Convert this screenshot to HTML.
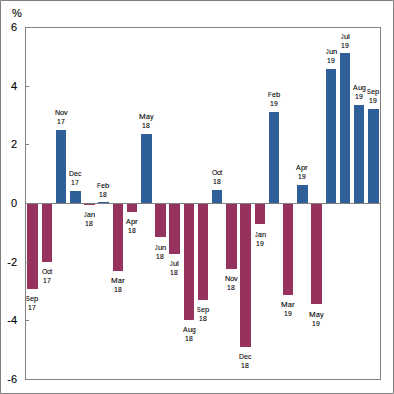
<!DOCTYPE html>
<html><head><meta charset="utf-8"><style>
html,body{margin:0;padding:0;background:#fff;}
#c{position:relative;width:394px;height:394px;overflow:hidden;background:#fff;font-family:"Liberation Sans",sans-serif;color:#000;}
#c svg{position:absolute;left:0;top:0;}
.dl{position:absolute;-webkit-text-stroke:0.1px #000;width:40px;text-align:center;font-size:7.5px;line-height:9px;white-space:nowrap;}
.yl{position:absolute;-webkit-text-stroke:0.1px #000;left:0;width:17px;text-align:right;font-size:11px;line-height:12px;white-space:nowrap;}
.gm{font-size:8px !important;}
.g{position:absolute;transform-origin:0 0;font-style:normal;-webkit-text-stroke:0.1px #000;font-size:7.5px;line-height:9px;white-space:nowrap;}
.pct{position:absolute;-webkit-text-stroke:0.1px #000;left:12px;top:7px;font-size:11px;line-height:12px;}
</style></head><body><div id="c">
<svg width="394" height="394" viewBox="0 0 394 394" shape-rendering="crispEdges">
<rect x="0.5" y="0.5" width="393" height="393" fill="none" stroke="#7e7e7e" stroke-width="1"/>
<rect x="0" y="0" width="1" height="1" fill="#a6a6a6"/><rect x="393" y="0" width="1" height="1" fill="#a6a6a6"/><rect x="0" y="393" width="1" height="1" fill="#a6a6a6"/><rect x="393" y="393" width="1" height="1" fill="#a6a6a6"/>
<rect x="27" y="204" width="11" height="85" fill="#96325e"/>
<rect x="42" y="204" width="10" height="58" fill="#96325e"/>
<rect x="56" y="130" width="10" height="73" fill="#2f5f98"/>
<rect x="70" y="191" width="11" height="12" fill="#2f5f98"/>
<rect x="84" y="204" width="11" height="1" fill="#96325e"/>
<rect x="98" y="202" width="11" height="1" fill="#2f5f98"/>
<rect x="113" y="204" width="10" height="67" fill="#96325e"/>
<rect x="127" y="204" width="10" height="8" fill="#96325e"/>
<rect x="141" y="134" width="11" height="69" fill="#2f5f98"/>
<rect x="155" y="204" width="11" height="33" fill="#96325e"/>
<rect x="169" y="204" width="11" height="50" fill="#96325e"/>
<rect x="184" y="204" width="10" height="116" fill="#96325e"/>
<rect x="198" y="204" width="10" height="96" fill="#96325e"/>
<rect x="212" y="190" width="10" height="13" fill="#2f5f98"/>
<rect x="226" y="204" width="11" height="65" fill="#96325e"/>
<rect x="240" y="204" width="11" height="143" fill="#96325e"/>
<rect x="255" y="204" width="10" height="20" fill="#96325e"/>
<rect x="269" y="112" width="10" height="91" fill="#2f5f98"/>
<rect x="283" y="204" width="10" height="91" fill="#96325e"/>
<rect x="297" y="185" width="11" height="18" fill="#2f5f98"/>
<rect x="311" y="204" width="11" height="100" fill="#96325e"/>
<rect x="326" y="69" width="10" height="134" fill="#2f5f98"/>
<rect x="340" y="53" width="10" height="150" fill="#2f5f98"/>
<rect x="354" y="105" width="10" height="98" fill="#2f5f98"/>
<rect x="368" y="109" width="11" height="94" fill="#2f5f98"/>
<rect x="25.5" y="27.5" width="355" height="352" fill="none" stroke="#808080" stroke-width="1"/>
<line x1="25" y1="203.5" x2="381" y2="203.5" stroke="#808080" stroke-width="1"/>
<line x1="25" y1="86.5" x2="29" y2="86.5" stroke="#808080" stroke-width="1"/>
<line x1="25" y1="144.5" x2="29" y2="144.5" stroke="#808080" stroke-width="1"/>
<line x1="25" y1="262.5" x2="29" y2="262.5" stroke="#808080" stroke-width="1"/>
<line x1="25" y1="320.5" x2="29" y2="320.5" stroke="#808080" stroke-width="1"/>
</svg>
<i class="g gm" style="left:26px;top:294px;transform:scaleX(0.688);">S</i><i class="g gm" style="left:30px;top:294px;transform:scaleX(0.896);">e</i><i class="g gm" style="left:34px;top:294px;transform:scaleX(0.944);">p</i><i class="g" style="left:28px;top:303px;transform:scaleX(0.912);">1</i><i class="g" style="left:32px;top:303px;transform:scaleX(0.912);">7</i>
<i class="g gm" style="left:42px;top:267px;transform:scaleX(0.851);">O</i><i class="g gm" style="left:47px;top:267px;transform:scaleX(0.846);">c</i><i class="g gm" style="left:50px;top:267px;">t</i><i class="g" style="left:43px;top:276px;transform:scaleX(0.912);">1</i><i class="g" style="left:47px;top:276px;transform:scaleX(0.912);">7</i>
<i class="g gm" style="left:55px;top:108px;transform:scaleX(0.895);">N</i><i class="g gm" style="left:60px;top:108px;transform:scaleX(0.948);">o</i><i class="g gm" style="left:64px;top:108px;transform:scaleX(0.904);">v</i><i class="g" style="left:57px;top:117px;transform:scaleX(0.912);">1</i><i class="g" style="left:61px;top:117px;transform:scaleX(0.912);">7</i>
<i class="g gm" style="left:69px;top:169px;transform:scaleX(0.852);">D</i><i class="g gm" style="left:74px;top:169px;transform:scaleX(0.896);">e</i><i class="g gm" style="left:78px;top:169px;transform:scaleX(0.846);">c</i><i class="g" style="left:71px;top:178px;transform:scaleX(0.912);">1</i><i class="g" style="left:75px;top:178px;transform:scaleX(0.912);">7</i>
<i class="g gm" style="left:84px;top:210px;transform:scaleX(0.638);">J</i><i class="g gm" style="left:87px;top:210px;transform:scaleX(0.862);">a</i><i class="g gm" style="left:91px;top:210px;transform:scaleX(0.944);">n</i><i class="g" style="left:85px;top:219px;transform:scaleX(0.912);">1</i><i class="g" style="left:89px;top:219px;transform:scaleX(0.912);">8</i>
<i class="g gm" style="left:97px;top:181px;transform:scaleX(0.751);">F</i><i class="g gm" style="left:101px;top:181px;transform:scaleX(0.896);">e</i><i class="g gm" style="left:105px;top:181px;transform:scaleX(0.944);">b</i><i class="g" style="left:99px;top:190px;transform:scaleX(0.912);">1</i><i class="g" style="left:103px;top:190px;transform:scaleX(0.912);">8</i>
<i class="g gm" style="left:111px;top:276px;">M</i><i class="g gm" style="left:118px;top:276px;transform:scaleX(0.862);">a</i><i class="g gm" style="left:122px;top:276px;">r</i><i class="g" style="left:114px;top:285px;transform:scaleX(0.912);">1</i><i class="g" style="left:118px;top:285px;transform:scaleX(0.912);">8</i>
<i class="g gm" style="left:126px;top:217px;transform:scaleX(0.868);">A</i><i class="g gm" style="left:131px;top:217px;transform:scaleX(0.944);">p</i><i class="g gm" style="left:135px;top:217px;">r</i><i class="g" style="left:128px;top:226px;transform:scaleX(0.912);">1</i><i class="g" style="left:132px;top:226px;transform:scaleX(0.912);">8</i>
<i class="g gm" style="left:139px;top:112px;">M</i><i class="g gm" style="left:146px;top:112px;transform:scaleX(0.862);">a</i><i class="g gm" style="left:150px;top:112px;transform:scaleX(0.906);">y</i><i class="g" style="left:142px;top:121px;transform:scaleX(0.912);">1</i><i class="g" style="left:146px;top:121px;transform:scaleX(0.912);">8</i>
<i class="g gm" style="left:155px;top:243px;transform:scaleX(0.638);">J</i><i class="g gm" style="left:158px;top:243px;transform:scaleX(0.944);">u</i><i class="g gm" style="left:162px;top:243px;transform:scaleX(0.944);">n</i><i class="g" style="left:156px;top:252px;transform:scaleX(0.912);">1</i><i class="g" style="left:160px;top:252px;transform:scaleX(0.912);">8</i>
<i class="g gm" style="left:170px;top:259px;transform:scaleX(0.638);">J</i><i class="g gm" style="left:173px;top:259px;transform:scaleX(0.944);">u</i><i class="g gm" style="left:177px;top:259px;">l</i><i class="g" style="left:170px;top:268px;transform:scaleX(0.912);">1</i><i class="g" style="left:174px;top:268px;transform:scaleX(0.912);">8</i>
<i class="g gm" style="left:183px;top:325px;transform:scaleX(0.868);">A</i><i class="g gm" style="left:188px;top:325px;transform:scaleX(0.944);">u</i><i class="g gm" style="left:192px;top:325px;transform:scaleX(0.847);">g</i><i class="g" style="left:185px;top:334px;transform:scaleX(0.912);">1</i><i class="g" style="left:189px;top:334px;transform:scaleX(0.912);">8</i>
<i class="g gm" style="left:197px;top:305px;transform:scaleX(0.688);">S</i><i class="g gm" style="left:201px;top:305px;transform:scaleX(0.896);">e</i><i class="g gm" style="left:205px;top:305px;transform:scaleX(0.944);">p</i><i class="g" style="left:199px;top:314px;transform:scaleX(0.912);">1</i><i class="g" style="left:203px;top:314px;transform:scaleX(0.912);">8</i>
<i class="g gm" style="left:212px;top:168px;transform:scaleX(0.851);">O</i><i class="g gm" style="left:217px;top:168px;transform:scaleX(0.846);">c</i><i class="g gm" style="left:220px;top:168px;">t</i><i class="g" style="left:213px;top:177px;transform:scaleX(0.912);">1</i><i class="g" style="left:217px;top:177px;transform:scaleX(0.912);">8</i>
<i class="g gm" style="left:225px;top:274px;transform:scaleX(0.895);">N</i><i class="g gm" style="left:230px;top:274px;transform:scaleX(0.948);">o</i><i class="g gm" style="left:234px;top:274px;transform:scaleX(0.904);">v</i><i class="g" style="left:227px;top:283px;transform:scaleX(0.912);">1</i><i class="g" style="left:231px;top:283px;transform:scaleX(0.912);">8</i>
<i class="g gm" style="left:239px;top:352px;transform:scaleX(0.852);">D</i><i class="g gm" style="left:244px;top:352px;transform:scaleX(0.896);">e</i><i class="g gm" style="left:248px;top:352px;transform:scaleX(0.846);">c</i><i class="g" style="left:241px;top:361px;transform:scaleX(0.912);">1</i><i class="g" style="left:245px;top:361px;transform:scaleX(0.912);">8</i>
<i class="g gm" style="left:255px;top:230px;transform:scaleX(0.638);">J</i><i class="g gm" style="left:258px;top:230px;transform:scaleX(0.862);">a</i><i class="g gm" style="left:262px;top:230px;transform:scaleX(0.944);">n</i><i class="g" style="left:256px;top:239px;transform:scaleX(0.912);">1</i><i class="g" style="left:260px;top:239px;transform:scaleX(0.912);">9</i>
<i class="g gm" style="left:268px;top:90px;transform:scaleX(0.751);">F</i><i class="g gm" style="left:272px;top:90px;transform:scaleX(0.896);">e</i><i class="g gm" style="left:276px;top:90px;transform:scaleX(0.944);">b</i><i class="g" style="left:270px;top:99px;transform:scaleX(0.912);">1</i><i class="g" style="left:274px;top:99px;transform:scaleX(0.912);">9</i>
<i class="g gm" style="left:281px;top:300px;">M</i><i class="g gm" style="left:288px;top:300px;transform:scaleX(0.862);">a</i><i class="g gm" style="left:292px;top:300px;">r</i><i class="g" style="left:284px;top:309px;transform:scaleX(0.912);">1</i><i class="g" style="left:288px;top:309px;transform:scaleX(0.912);">9</i>
<i class="g gm" style="left:296px;top:163px;transform:scaleX(0.868);">A</i><i class="g gm" style="left:301px;top:163px;transform:scaleX(0.944);">p</i><i class="g gm" style="left:305px;top:163px;">r</i><i class="g" style="left:298px;top:172px;transform:scaleX(0.912);">1</i><i class="g" style="left:302px;top:172px;transform:scaleX(0.912);">9</i>
<i class="g gm" style="left:309px;top:310px;">M</i><i class="g gm" style="left:316px;top:310px;transform:scaleX(0.862);">a</i><i class="g gm" style="left:320px;top:310px;transform:scaleX(0.906);">y</i><i class="g" style="left:312px;top:319px;transform:scaleX(0.912);">1</i><i class="g" style="left:316px;top:319px;transform:scaleX(0.912);">9</i>
<i class="g gm" style="left:326px;top:47px;transform:scaleX(0.638);">J</i><i class="g gm" style="left:329px;top:47px;transform:scaleX(0.944);">u</i><i class="g gm" style="left:333px;top:47px;transform:scaleX(0.944);">n</i><i class="g" style="left:327px;top:56px;transform:scaleX(0.912);">1</i><i class="g" style="left:331px;top:56px;transform:scaleX(0.912);">9</i>
<i class="g gm" style="left:341px;top:32px;transform:scaleX(0.638);">J</i><i class="g gm" style="left:344px;top:32px;transform:scaleX(0.944);">u</i><i class="g gm" style="left:348px;top:32px;">l</i><i class="g" style="left:341px;top:41px;transform:scaleX(0.912);">1</i><i class="g" style="left:345px;top:41px;transform:scaleX(0.912);">9</i>
<i class="g gm" style="left:353px;top:83px;transform:scaleX(0.868);">A</i><i class="g gm" style="left:358px;top:83px;transform:scaleX(0.944);">u</i><i class="g gm" style="left:362px;top:83px;transform:scaleX(0.847);">g</i><i class="g" style="left:355px;top:92px;transform:scaleX(0.912);">1</i><i class="g" style="left:359px;top:92px;transform:scaleX(0.912);">9</i>
<i class="g gm" style="left:367px;top:87px;transform:scaleX(0.688);">S</i><i class="g gm" style="left:371px;top:87px;transform:scaleX(0.896);">e</i><i class="g gm" style="left:375px;top:87px;transform:scaleX(0.944);">p</i><i class="g" style="left:369px;top:96px;transform:scaleX(0.912);">1</i><i class="g" style="left:373px;top:96px;transform:scaleX(0.912);">9</i>
<div class="yl" style="top:21px">6</div>
<div class="yl" style="top:80px">4</div>
<div class="yl" style="top:138px">2</div>
<div class="yl" style="top:197px">0</div>
<div class="yl" style="top:256px">-2</div>
<div class="yl" style="top:314px">-4</div>
<div class="yl" style="top:373px">-6</div>
<div class="pct">%</div>
</div></body></html>
